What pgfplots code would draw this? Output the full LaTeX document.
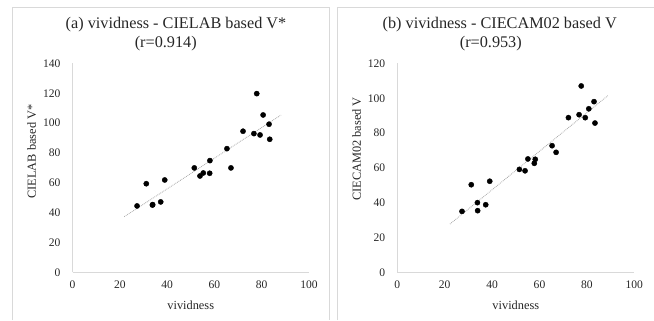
\documentclass[border=0pt]{standalone}
\usepackage{fontspec}
\setmainfont{Liberation Serif}
\usepackage{pgfplots}
\pgfplotsset{compat=1.18}
\definecolor{txt}{HTML}{262626}
\definecolor{brd}{HTML}{D9D9D9}
\definecolor{axl}{HTML}{D9D9D9}
\definecolor{trend}{HTML}{A6A6A6}

\pgfplotstableread{
x y
27.3 44.5
31.2 59.4
33.8 45.1
33.9 45.4
37.3 47.2
39.0 61.9
51.5 70.0
53.9 64.6
55.3 66.6
58.1 74.9
58.0 66.4
65.3 82.9
67.0 70.0
72.1 94.6
76.7 93.0
77.9 119.8
79.3 92.1
80.6 105.5
83.1 99.3
83.4 89.2
}\dataA

\pgfplotstableread{
x y
27.3 35.1
31.2 50.4
33.8 40.1
33.9 35.5
37.3 38.9
39.0 52.4
51.5 59.2
53.9 58.4
55.1 65.2
58.2 65.0
57.8 62.7
65.3 72.8
67.0 69.0
72.2 88.9
76.7 90.6
77.6 107.1
79.3 88.9
80.8 94.0
83.0 98.1
83.4 85.8
}\dataB

\pgfplotsset{panel/.style={
  scale only axis, width=236.5bp, height=208.8bp,
  xmin=0, xmax=100, ymin=0,
  axis x line*=bottom, axis y line*=left,
  axis line style={draw=axl, line width=0.75bp, -},
  major tick length=0pt,
  xtick={0,20,...,100},
  tick label style={font=\fontsize{11.6}{13}\selectfont, text=txt},
  /pgf/number format/assume math mode=true,
  xticklabel style={yshift=-5bp},
  yticklabel style={xshift=-8.6bp},
  label style={font=\fontsize{12.4}{14}\selectfont, text=txt},
  xlabel style={at={(axis description cs:0.5,-0.157)}, anchor=center},
  clip=false,
}}

\begin{document}
\begin{tikzpicture}[x=1bp,y=1bp]
\useasboundingbox (0,0) rectangle (654,320);
\draw[brd, line width=0.75bp] (12.3,0) -- (12.3,313) -- (329.3,313) -- (329.3,0);
\draw[brd, line width=0.75bp] (337,0) -- (337,313) -- (654,313);

\node[font=\fontsize{16.3}{18}\selectfont, text=txt] at (176,295) {(a) vividness - CIELAB based V*};
\node[font=\fontsize{16.3}{18}\selectfont, text=txt] at (165.8,276.7) {(r=0.914)};
\node[font=\fontsize{16.3}{18}\selectfont, text=txt] at (499.7,295) {(b) vividness - CIECAM02 based V};
\node[font=\fontsize{16.3}{18}\selectfont, text=txt] at (490.8,276.7) {(r=0.953)};

\begin{axis}[panel, at={(72.5bp,47.7bp)}, anchor=south west,
  ymax=140, ytick={0,20,...,140},
  xlabel={vividness}, ylabel={CIELAB based V*},
  ylabel style={at={(axis description cs:-0.1725,0.578)}, anchor=center}]
\addplot[only marks, mark=*, mark size=2.6bp, black] table[x=x,y=y] {\dataA};
\addplot[densely dotted, trend, line width=0.8bp] coordinates {(21.9,37.3) (88.2,105.5)};
\end{axis}

\begin{axis}[panel, at={(397.3bp,47.5bp)}, anchor=south west, width=237bp, height=209bp,
  ymax=120, ytick={0,20,...,120},
  xlabel={vividness}, ylabel={CIECAM02 based V},
  ylabel style={at={(axis description cs:-0.171,0.591)}, anchor=center}]
\addplot[only marks, mark=*, mark size=2.6bp, black] table[x=x,y=y] {\dataB};
\addplot[densely dotted, trend, line width=0.8bp] coordinates {(22.2,27.8) (88.8,101.5)};
\end{axis}
\end{tikzpicture}
\end{document}
